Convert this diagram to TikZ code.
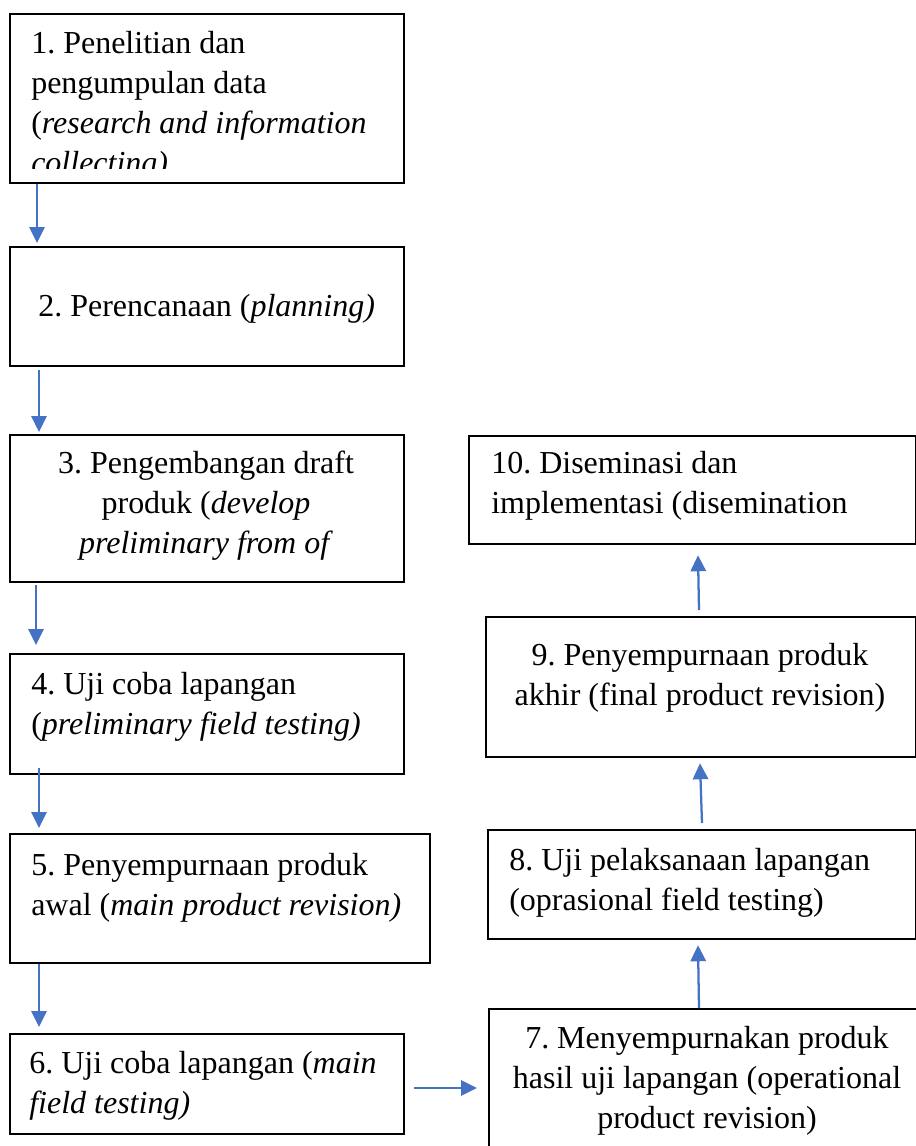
\documentclass[tikz,border=0pt]{standalone}
\usepackage{fontspec}
\setmainfont{Liberation Serif}
\usetikzlibrary{arrows.meta,calc}
\definecolor{arrblue}{RGB}{68,114,196}
\frenchspacing
\def\pxu{0.75pt}
\newcommand\lft[1]{\begin{tabular}[t]{@{}l@{}}#1\end{tabular}}
\newcommand\cen[1]{\begin{tabular}[t]{@{}c@{}}#1\end{tabular}}
\tikzset{
  box/.style={draw=black, line width=1.7pt, rectangle, inner sep=0pt, anchor=north west},
  txt/.style={inner sep=0pt, font=\fontsize{24}{30}\selectfont\frenchspacing},
  arr/.style={draw=arrblue, line width=1.7pt, -{Triangle[length=12pt,width=11.5pt]}},
}
\newcommand\bx[5]{\node[box, minimum width={#4*\pxu}, minimum height={#5*\pxu}] (#1) at (#2,#3) {};}
\begin{document}
\begin{tikzpicture}[x=\pxu, y=-\pxu]
\useasboundingbox (0,0) rectangle (916,1146);
\clip (0,0) rectangle (916,1146);
\fill[white] (0,0) rectangle (916,1146);
% boxes
\bx{b1}{9}{13}{394}{169}
\bx{b2}{9}{246}{394}{119}
\bx{b3}{9}{434}{394}{147}
\bx{b4}{9}{653}{394}{120}
\bx{b5}{9}{833}{420}{129}
\bx{b6}{9}{1033}{394}{100}
\bx{b7}{488}{1008}{438}{152}
\bx{b8}{487}{829}{428}{109}
\bx{b9}{485}{616}{430}{140}
\bx{b10}{468}{435}{447}{108}
% texts
\begin{scope}
\clip (9,13) rectangle (403,168);
\node[txt, anchor=base west] (t1) at (31,53) {\lft{1. Penelitian dan\\pengumpulan data\\(\textit{research and information}\\\textit{collecting)}}};
\end{scope}
\node[txt, anchor=base west] (t2) at (38,316) {2. Perencanaan (\textit{planning)}};
\node[txt, anchor=base] (t3) at (206,473) {\cen{3. Pengembangan draft\\produk (\textit{develop}\\\textit{preliminary from of}}};
\node[txt, anchor=base west] (t4) at (31,694) {\lft{4. Uji coba lapangan\\(\textit{preliminary field testing)}}};
\node[txt, anchor=base west] (t5) at (31,875) {\lft{5. Penyempurnaan produk\\awal (\textit{main product revision)}}};
\node[txt, anchor=base west] (t6) at (29,1073) {\lft{6. Uji coba lapangan (\textit{main}\\\textit{field testing)}}};
\node[txt, anchor=base] (t7) at (707,1048) {\cen{7. Menyempurnakan produk\\hasil uji lapangan (operational\\product revision)}};
\node[txt, anchor=base west] (t8) at (509,870) {\lft{8. Uji pelaksanaan lapangan\\(oprasional field testing)}};
\node[txt, anchor=base] (t9) at (700,665) {\cen{9. Penyempurnaan produk\\akhir (final product revision)}};
\node[txt, anchor=base west] (t10) at (491,473) {\lft{10. Diseminasi dan\\implementasi (disemination}};
% arrows
\draw[arr] ($(b1.south west)+(28,0)$) -- ($(b2.north west)+(28,-3)$);
\draw[arr] ($(b2.south west)+(30,3)$) -- ($(b3.north west)+(30,-2)$);
\draw[arr] ($(b3.south west)+(27,2)$) -- ($(b4.north west)+(27,-8)$);
\draw[arr] ($(b4.south west)+(30,-7)$) -- ($(b5.north west)+(30,-5)$);
\draw[arr] ($(b5.south west)+(30,0)$) -- ($(b6.north west)+(30,-6)$);
\draw[arr] ($(b6.north east)+(9,55)$) -- ($(b7.north west)+(-11,80)$);
\draw[arr] ($(b7.north west)+(211,0)$) -- ($(b8.south west)+(211,5)$);
\draw[arr] ($(b8.north west)+(215,-6)$) -- ($(b9.south west)+(215,5)$);
\draw[arr] ($(b9.north west)+(214,-6)$) -- ($(b10.south west)+(230,10)$);
\end{tikzpicture}
\end{document}
